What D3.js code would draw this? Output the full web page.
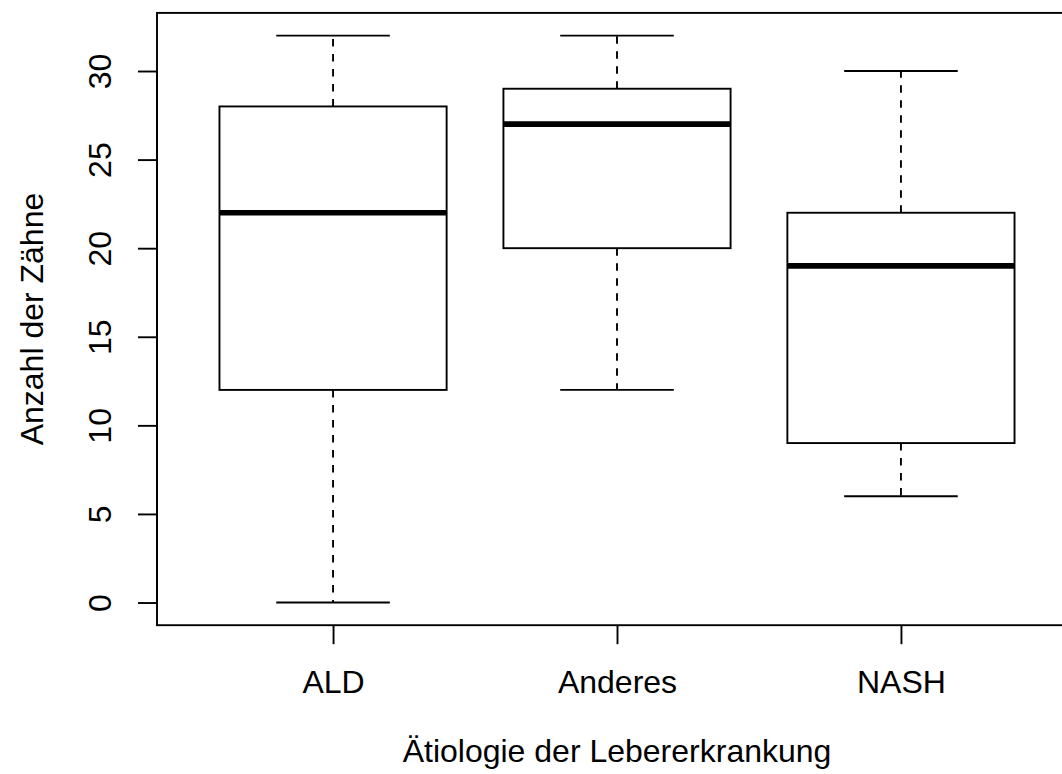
<!DOCTYPE html>
<html>
<head>
<meta charset="utf-8">
<script src="https://cdn.jsdelivr.net/npm/d3@7"></script>
<style>
  body { margin: 0; background: #fff; }
  svg text { font-family: "Liberation Sans", Arial, sans-serif; fill: #000; }
</style>
</head>
<body>
<svg id="svg"></svg>
<script>
const width = 1062, height = 774;

const categories = ["ALD", "Anderes", "NASH"];
const whiskerLow = [0, 12, 6];
const q1 = [12, 20, 9];
const medians = [22, 27, 19];
const q3 = [28, 29, 22];
const whiskerHigh = [32, 32, 30];
const yTicks = [0, 5, 10, 15, 20, 25, 30];
const xTitle = "Ätiologie der Lebererkrankung";
const yTitle = "Anzahl der Zähne";

const fontSize = 32;
const lw = 1.9;

// R style usr: xlim 0.5..3.5, ylim 0..32, both widened by 4%
const x = d3.scaleLinear().domain([0.38, 3.62]).range([157, 1077]);
const y = d3.scaleLinear().domain([-1.28, 33.28]).range([625.2, 12.9]);

const boxes = categories.map((c, i) => ({
    pos: i + 1,
    lo: whiskerLow[i], q1: q1[i], med: medians[i], q3: q3[i], hi: whiskerHigh[i]
}));

const svg = d3.select("#svg")
    .attr("width", width)
    .attr("height", height);

const boxHalf = x(1.4) - x(1);   // box width 0.8
const capHalf = boxHalf / 2;

const g = svg.selectAll("g.box")
    .data(boxes)
    .enter()
    .append("g")
    .attr("class", "box");

// dashed whiskers
g.append("line")
    .attr("x1", d => x(d.pos)).attr("x2", d => x(d.pos))
    .attr("y1", d => y(d.q3)).attr("y2", d => y(d.hi))
    .attr("stroke", "#000").attr("stroke-width", lw)
    .attr("stroke-dasharray", "7.5,7.5");
g.append("line")
    .attr("x1", d => x(d.pos)).attr("x2", d => x(d.pos))
    .attr("y1", d => y(d.q1)).attr("y2", d => y(d.lo))
    .attr("stroke", "#000").attr("stroke-width", lw)
    .attr("stroke-dasharray", "7.5,7.5");

// caps
["lo", "hi"].forEach(k => {
    g.append("line")
        .attr("x1", d => x(d.pos) - capHalf).attr("x2", d => x(d.pos) + capHalf)
        .attr("y1", d => y(d[k])).attr("y2", d => y(d[k]))
        .attr("stroke", "#000").attr("stroke-width", lw);
});

// boxes
g.append("rect")
    .attr("x", d => x(d.pos) - boxHalf)
    .attr("width", 2 * boxHalf)
    .attr("y", d => y(d.q3))
    .attr("height", d => y(d.q1) - y(d.q3))
    .attr("fill", "#fff")
    .attr("stroke", "#000").attr("stroke-width", lw);

// medians
g.append("line")
    .attr("x1", d => x(d.pos) - boxHalf).attr("x2", d => x(d.pos) + boxHalf)
    .attr("y1", d => y(d.med)).attr("y2", d => y(d.med))
    .attr("stroke", "#000").attr("stroke-width", 5.6);

// frame
svg.append("rect")
    .attr("x", x.range()[0]).attr("y", y.range()[1])
    .attr("width", x.range()[1] - x.range()[0])
    .attr("height", y.range()[0] - y.range()[1])
    .attr("fill", "none")
    .attr("stroke", "#000").attr("stroke-width", lw);

// y axis
const yAxis = svg.append("g")
    .attr("transform", `translate(${x.range()[0]},0)`)
    .call(d3.axisLeft(y).tickValues(yTicks).tickSize(19).tickSizeOuter(0));
yAxis.select(".domain")
    .attr("d", `M0,${y(yTicks[0])}V${y(yTicks[yTicks.length - 1])}`)
    .attr("stroke-width", lw);
yAxis.selectAll(".tick line").attr("stroke-width", lw);
yAxis.selectAll(".tick text")
    .attr("transform", "rotate(-90)")
    .attr("x", 0).attr("y", -46).attr("dy", 0)
    .attr("text-anchor", "middle")
    .style("font-size", fontSize + "px")
    .style("font-family", "Liberation Sans, Arial, sans-serif");

// x axis
const xAxis = svg.append("g")
    .attr("transform", `translate(0,${y.range()[0]})`)
    .call(d3.axisBottom(x).tickValues([1, 2, 3]).tickFormat(i => categories[i - 1])
        .tickSize(19).tickSizeOuter(0));
xAxis.select(".domain").remove();
xAxis.selectAll(".tick line").attr("stroke-width", lw);
xAxis.selectAll(".tick text")
    .attr("y", 68).attr("dy", 0)
    .style("font-size", fontSize + "px")
    .style("font-family", "Liberation Sans, Arial, sans-serif");

// titles
svg.append("text")
    .attr("x", (x.range()[0] + x.range()[1]) / 2)
    .attr("y", 762)
    .attr("text-anchor", "middle")
    .style("font-size", fontSize + "px")
    .text(xTitle);

svg.append("text")
    .attr("transform", `translate(43,${(y.range()[0] + y.range()[1]) / 2}) rotate(-90)`)
    .attr("text-anchor", "middle")
    .style("font-size", fontSize + "px")
    .text(yTitle);
</script>
</body>
</html>
